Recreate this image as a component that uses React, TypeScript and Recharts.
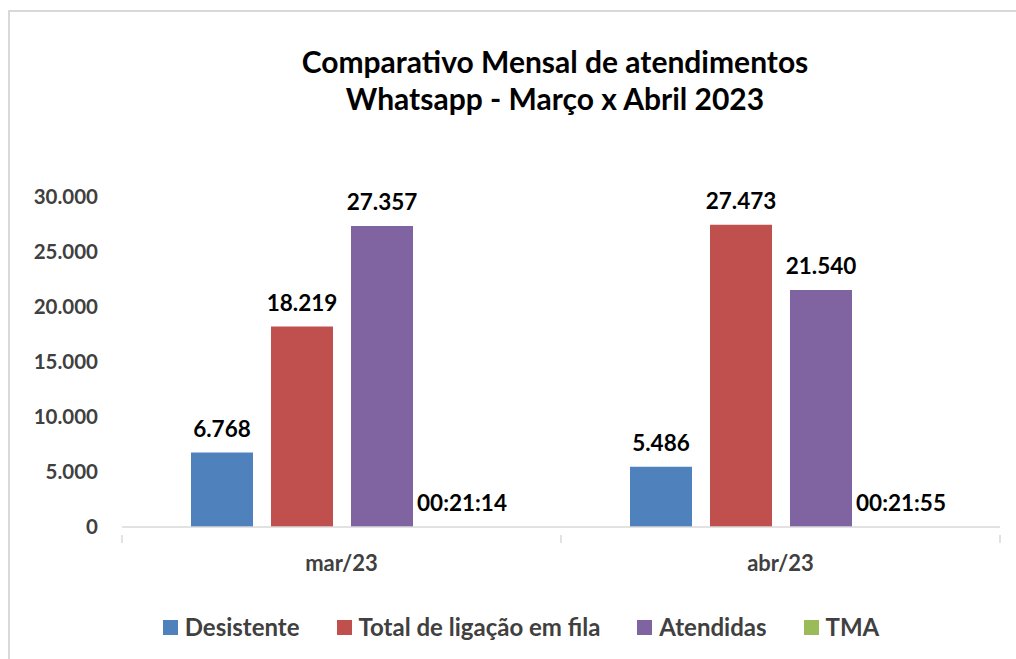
import { BarChart, Bar, XAxis, YAxis, LabelList } from "recharts";

const categories = ["mar/23", "abr/23"];
const desistente = [6768, 5486];
const totalFila = [18219, 27473];
const atendidas = [27357, 21540];
const tma = ["00:21:14", "00:21:55"];
const yTicks = [0, 5000, 10000, 15000, 20000, 25000, 30000];

const series = [
  { key: "desistente", name: "Desistente", color: "#4F81BD" },
  { key: "totalFila", name: "Total de ligação em fila", color: "#C0504D" },
  { key: "atendidas", name: "Atendidas", color: "#8064A2" },
  { key: "tma", name: "TMA", color: "#9BBB59" },
];

// TMA is a duration, Excel keeps it as a fraction of a day
const toDays = (t: string) => {
  const [h, m, s] = t.split(":").map(Number);
  return (h * 3600 + m * 60 + s) / 86400;
};
const toClock = (d: number) => {
  const total = Math.round(d * 86400);
  const pad = (n: number) => String(n).padStart(2, "0");
  return `${pad(Math.floor(total / 3600))}:${pad(Math.floor((total % 3600) / 60))}:${pad(total % 60)}`;
};

const data = categories.map((name, i) => ({
  name,
  desistente: desistente[i],
  totalFila: totalFila[i],
  atendidas: atendidas[i],
  tma: toDays(tma[i]),
}));

const font = "Lato, 'Liberation Sans', sans-serif";
const fmt = (v: number) => v.toLocaleString("pt-BR");

const CategoryTick = (props: any) => {
  const { x, y, payload, index, visibleTicksCount } = props;
  const band = 878 / categories.length;
  const lines = [x - band / 2];
  if (index === visibleTicksCount - 1) lines.push(x + band / 2);
  return (
    <g>
      {lines.map((lx, i) => (
        <line key={i} x1={lx} x2={lx} y1={y} y2={y + 8} stroke="#D9D9D9" strokeWidth={1.5} />
      ))}
      <text x={x} y={y + 30} textAnchor="middle" dominantBaseline="middle" fill="#404040"
        fontFamily={font} fontWeight={700} fontSize={22}>
        {payload.value}
      </text>
    </g>
  );
};

export default function App() {
  return (
    <div style={{ position: "fixed", left: 0, top: 0, width: 1016, height: 659, background: "#fff", overflow: "hidden" }}>
      <div style={{ position: "absolute", left: 8, top: 10, width: 1008, height: 649, boxSizing: "border-box", borderLeft: "2px solid #D9D9D9", borderTop: "2px solid #D9D9D9" }} />
      <div style={{ position: "absolute", left: 0, top: 43, width: 1016, boxSizing: "border-box", paddingLeft: 94, textAlign: "center", fontFamily: font, fontWeight: 700, fontSize: 30, lineHeight: "37px", color: "#000" }}>
        Comparativo Mensal de atendimentos<br />Whatsapp - Março x Abril 2023
      </div>
      <div style={{ position: "absolute", left: 0, top: 0 }}>
        <BarChart width={1016} height={659} data={data}
          margin={{ top: 197, right: 16, bottom: 0, left: 0 }}
          barCategoryGap={69} barGap={18}>
          <XAxis dataKey="name" axisLine={{ stroke: "#D9D9D9", strokeWidth: 1.5 }} tickLine={false}
            tick={<CategoryTick />} height={132} interval={0} />
          <YAxis domain={[0, 30000]} ticks={yTicks} width={122} axisLine={false} tickLine={false}
            tickSize={0} tickMargin={24} tickFormatter={fmt}
            tick={{ fill: "#404040", fontFamily: font, fontWeight: 700, fontSize: 20.5 }} />
          {series.map((s) => (
            <Bar key={s.key} dataKey={s.key} name={s.name} fill={s.color} isAnimationActive={false}>
              <LabelList dataKey={s.key} position="top" offset={16}
                formatter={(v: any) => (s.key === "tma" ? toClock(Number(v)) : fmt(Number(v)))}
                style={{ fill: "#000", fontFamily: font, fontWeight: 700, fontSize: 22.5 }} />
            </Bar>
          ))}
        </BarChart>
      </div>
      <div style={{ position: "absolute", left: 0, top: 612, width: 1016, boxSizing: "border-box", paddingLeft: 26, display: "flex", justifyContent: "center", gap: 37, fontFamily: font, fontWeight: 700, fontSize: 24, lineHeight: "30px", color: "#404040" }}>
        {series.map((s) => (
          <div key={s.key} style={{ display: "flex", alignItems: "center", gap: 7 }}>
            <span style={{ width: 15, height: 15, background: s.color, display: "inline-block" }} />
            <span>{s.name}</span>
          </div>
        ))}
      </div>
    </div>
  );
}
